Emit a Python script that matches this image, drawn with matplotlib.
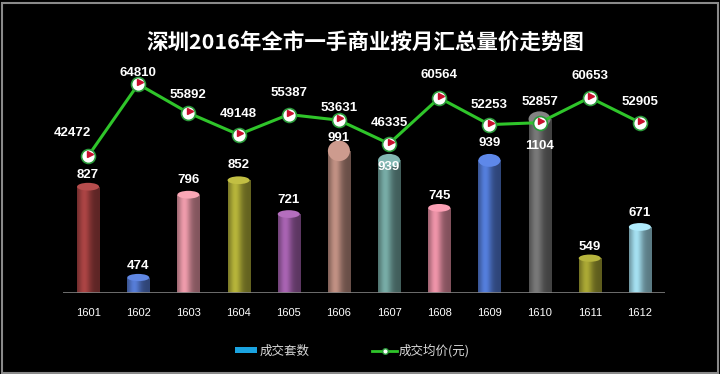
import numpy as np
import matplotlib
matplotlib.use("Agg")
import matplotlib.pyplot as plt
from matplotlib.patches import Ellipse, Rectangle
from matplotlib.colors import to_rgb

plt.rcParams['font.family'] = ['Liberation Sans', 'Noto Sans CJK SC', 'DejaVu Sans']

# data
months = ["1601", "1602", "1603", "1604", "1605", "1606",
          "1607", "1608", "1609", "1610", "1611", "1612"]
units = [827, 474, 796, 852, 721, 991, 939, 745, 939, 1104, 549, 671]
price = [42472, 64810, 55892, 49148, 55387, 53631,
         46335, 60564, 52253, 52857, 60653, 52905]
title = "深圳2016年全市一手商业按月汇总量价走势图"

# styling
bar_colors = ["#9c3e3e", "#4f72c4", "#d98e9c", "#a6a435", "#9a5ba3", "#b08478",
              "#6d9d98", "#d9879a", "#4d73c9", "#6e6e6e", "#9c9a30", "#96ccdb"]
cap_h = [30, 28, 30, 30, 30, 80, 50, 30, 50, 60, 28, 30]
# label offsets (pixels, label centre relative to top / marker)
bar_lab_dy = [8, 8, 11, 11, 10, 3, -13, 8, 11, -35, 8, 10]
price_lab_dy = [23, 11, 18, 21, 22, 12, 21, 23, 20, 21, 22, 21]

fig = plt.figure(figsize=(7.2, 3.74), dpi=100, facecolor="black")
ax = fig.add_axes([63 / 720, 1 - 293 / 374, 602 / 720, 233 / 374])
ax.set_facecolor("black")
ax.set_xlim(-0.5, 11.5)
ax.set_ylim(400, 1303)

x = np.arange(len(months))
w = 0.44
bars = ax.bar(x, [u - 400 for u in units], bottom=400, width=w, color=bar_colors, zorder=2)

# cylinder shading
t = np.linspace(0, 1, 64)
shade = 0.6 + 0.5 * np.exp(-((t - 0.32) / 0.28) ** 2)
for b, c, u, ch in zip(bars, bar_colors, units, cap_h):
    rgb = np.array(to_rgb(c))
    img = np.clip(shade[None, :, None] * rgb[None, None, :], 0, 1)
    x0 = b.get_x()
    top = u - ch / 2
    b.set_height(top - 400)
    im = ax.imshow(img, extent=(x0, x0 + w, 400, top), aspect="auto", zorder=3,
                   interpolation="bilinear")
    im.set_clip_path(b)
    b.set_alpha(0)
    cap_col = np.clip(rgb * 1.12 + 0.03, 0, 1)
    ax.add_patch(Ellipse((x0 + w / 2, top), w, ch, facecolor=cap_col,
                         edgecolor="none", zorder=4))

# baseline
ax.axhline(400, color="#808080", lw=1.2, zorder=5)

for i, u in enumerate(units):
    ax.annotate(str(u), (x[i], u), xytext=(0, bar_lab_dy[i] * 0.72),
                textcoords="offset points", ha="center", va="center",
                color="white", fontsize=9.5, fontweight="bold", zorder=9)

for s in ax.spines.values():
    s.set_visible(False)
ax.set_yticks([])
ax.set_xticks(x)
ax.set_xticklabels(months, color="white", fontsize=8)
ax.tick_params(axis="x", length=0, pad=11)

# price line
ax2 = ax.twinx()
ax2.set_ylim(0, 72300)
ax2.set_yticks([])
for s in ax2.spines.values():
    s.set_visible(False)
ax2.plot(x, price, color="#2fc52a", lw=2.2, zorder=6)
ax2.plot(x, price, ls="none", marker="o", ms=10, mfc="white", mec="#2a9a3a",
         mew=1.2, zorder=7)
ax2.plot(x + 0.03, [p + 600 for p in price], ls="none", marker=">", ms=4,
         color="#c8102e", zorder=8)
for i, p in enumerate(price):
    dx = -16 if i == 0 else 0
    ax2.annotate(str(p), (x[i], p), xytext=(dx * 0.72, price_lab_dy[i] * 0.72),
                 textcoords="offset points", ha="center", va="center",
                 color="white", fontsize=9.5, fontweight="bold", zorder=9)

fig.text(365 / 720, 1 - 42 / 374, title, ha="center", va="center", color="white",
         fontsize=15.5, fontweight="bold", family=["Noto Sans CJK SC", "DejaVu Sans"])

# legend
fig.patches.append(Rectangle((235 / 720, 1 - 353 / 374), 22 / 720, 6 / 374,
                             transform=fig.transFigure, facecolor="#1aa3e0",
                             edgecolor="none"))
fig.text(260 / 720, 1 - 351 / 374, "成交套数", ha="left", va="center",
         color="#d8d8d8", fontsize=9, family=["Noto Sans CJK SC", "DejaVu Sans"])
fig.lines.append(plt.Line2D([372 / 720, 397 / 720], [1 - 351 / 374] * 2,
                            transform=fig.transFigure, color="#2fc52a", lw=2))
fig.lines.append(plt.Line2D([384.5 / 720], [1 - 351 / 374], transform=fig.transFigure,
                            marker="o", ms=4, mfc="white", mec="#2a9a3a", lw=0))
fig.text(399 / 720, 1 - 351 / 374, "成交均价(元)", ha="left", va="center",
         color="#d8d8d8", fontsize=9, family=["Noto Sans CJK SC", "DejaVu Sans"])

# border
fig.patches.append(Rectangle((1.5 / 720, 1.5 / 374), 716 / 720, 370 / 374,
                             transform=fig.transFigure, facecolor="none",
                             edgecolor="#8a8a8a", lw=1.5))

fig.savefig("out.png", dpi=100, facecolor="black")
